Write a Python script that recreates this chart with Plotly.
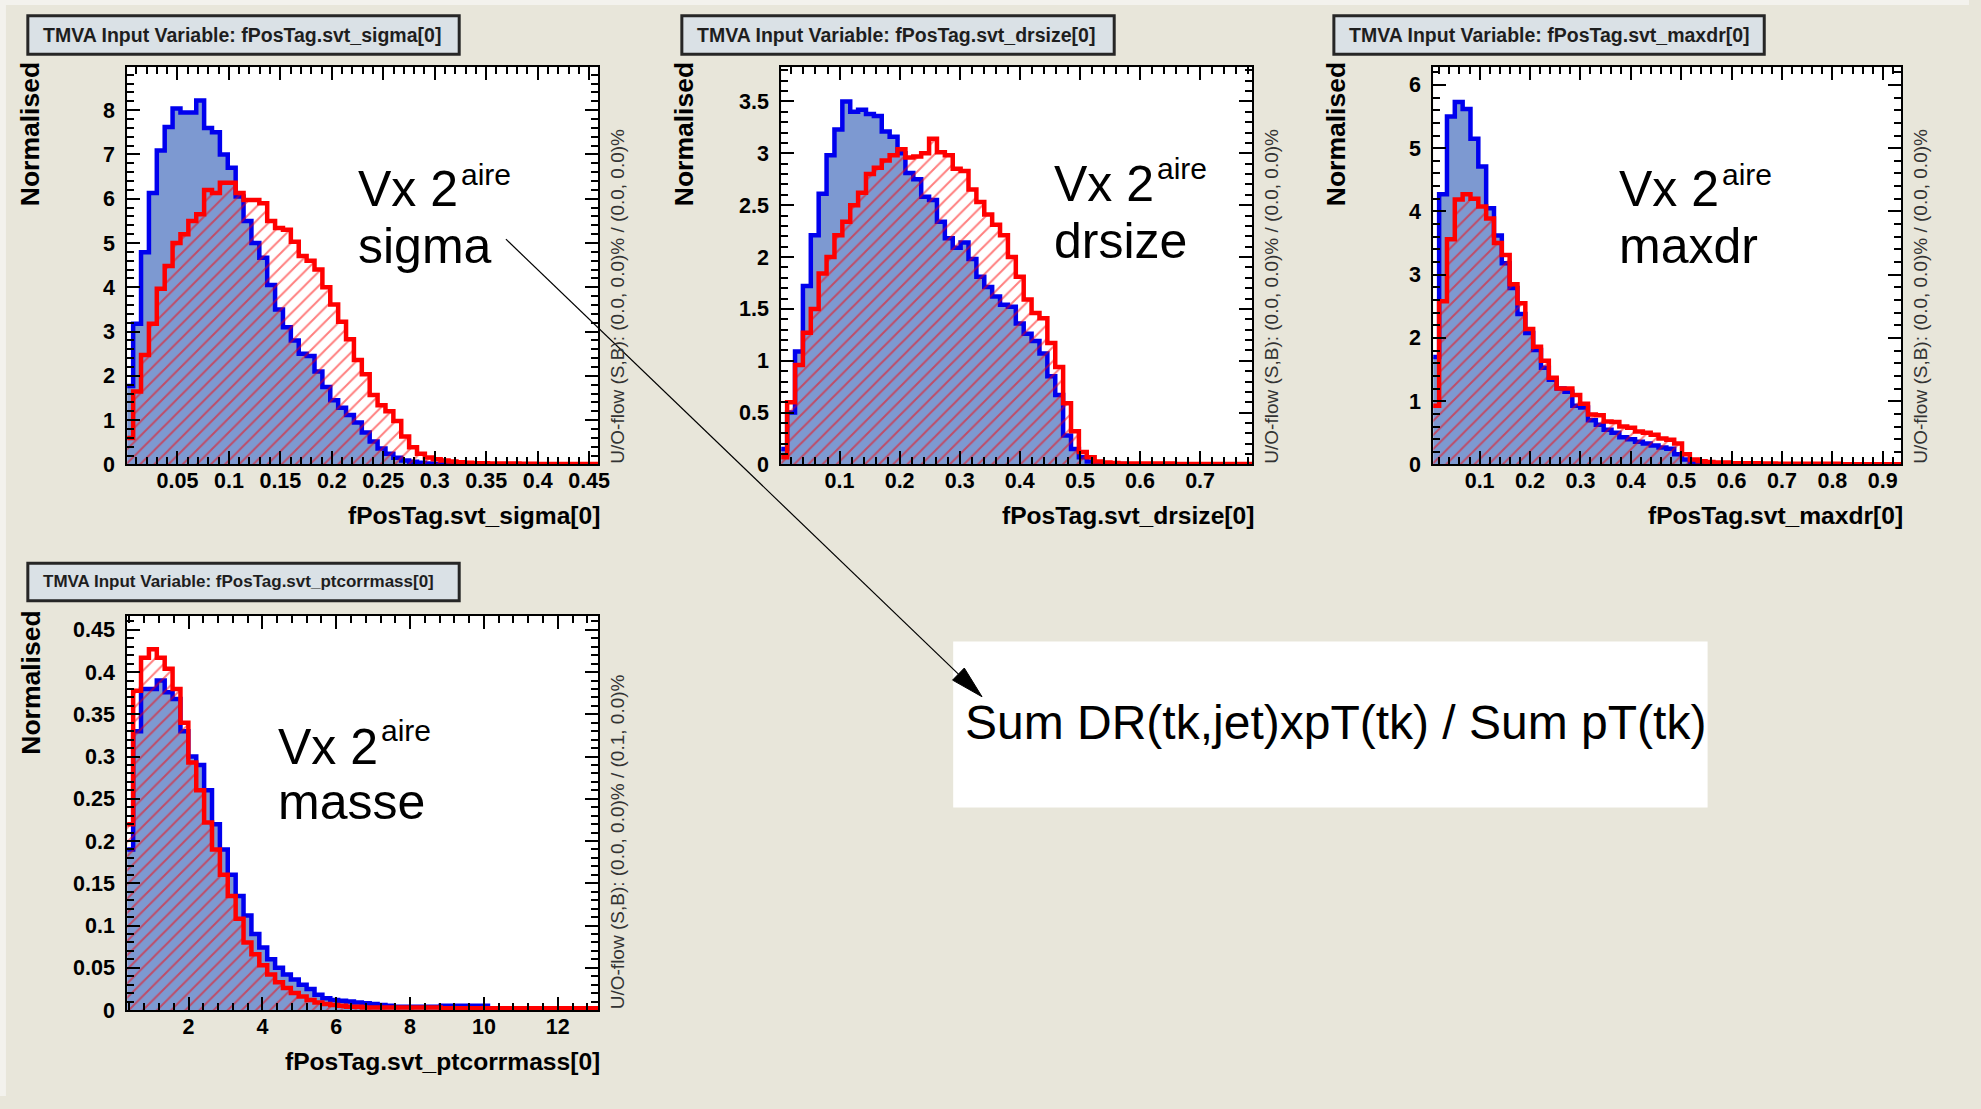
import numpy as np
import plotly.graph_objects as go

W, H = 1981, 1109
FONT = "Liberation Sans"
BEIGE = "#e8e6da"
SIG_FILL = "#7d99d1"
SIG_LINE = "#0000ee"
BKG_LINE = "#ff0000"

# ---------------------------------------------------------------------------
# Histogram contents, 60 bins per variable: signal (S) and background (B)
# ---------------------------------------------------------------------------
sigma_hist_range = (-0.0007, 0.459)
sigma_axis_range = (0.0012, 0.459)
sigma_sig = [1.77, 3.18, 4.79, 6.13, 7.09, 7.62, 8.04, 7.95, 7.95, 8.22,
             7.6, 7.5, 7.0, 6.7, 6.05, 5.5, 5.0, 4.67, 4.05, 3.5,
             3.1, 2.8, 2.5, 2.45, 2.1, 1.75, 1.45, 1.28, 1.12, 0.95,
             0.72, 0.52, 0.36, 0.24, 0.15, 0.09, 0.06, 0.04, 0.02, 0.01,
             0.01, 0.005, 0.005, 0.003, 0.003, 0.002, 0.002, 0.001, 0.001, 0.001,
             0.001, 0.0, 0.0, 0.0, 0.0, 0.0, 0.0, 0.0, 0.0, 0.0]
sigma_bkg = [0.6, 1.65, 2.47, 3.18, 3.97, 4.48, 5.0, 5.2, 5.5, 5.65,
             6.2, 6.13, 6.36, 6.36, 6.13, 5.97, 5.97, 5.9, 5.5, 5.34,
             5.3, 5.03, 4.71, 4.6, 4.4, 4.0, 3.61, 3.22, 2.83, 2.36,
             2.04, 1.57, 1.34, 1.2, 0.98, 0.63, 0.39, 0.24, 0.16, 0.12,
             0.09, 0.07, 0.05, 0.04, 0.03, 0.03, 0.02, 0.02, 0.02, 0.02,
             0.015, 0.015, 0.01, 0.01, 0.01, 0.01, 0.01, 0.01, 0.01, 0.01]

drsize_hist_range = (-0.0003, 0.787)
drsize_axis_range = (0.003, 0.787)
drsize_sig = [0.15, 0.5, 1.09, 1.72, 2.21, 2.61, 2.98, 3.23, 3.5, 3.4,
              3.42, 3.38, 3.36, 3.21, 3.16, 3.0, 2.81, 2.75, 2.58, 2.55,
              2.34, 2.18, 2.09, 2.14, 1.98, 1.81, 1.71, 1.62, 1.54, 1.52,
              1.36, 1.26, 1.19, 1.07, 0.85, 0.67, 0.28, 0.15, 0.07, 0.03,
              0.01, 0.01, 0.005, 0.005, 0.002, 0.002, 0.0, 0.0, 0.0, 0.0,
              0.0, 0.0, 0.0, 0.0, 0.0, 0.0, 0.0, 0.0, 0.0, 0.0]
drsize_bkg = [0.07, 0.6, 0.96, 1.27, 1.5, 1.84, 2.0, 2.21, 2.34, 2.5,
              2.62, 2.8, 2.86, 2.93, 2.98, 3.04, 2.96, 2.97, 3.0, 3.14,
              3.01, 2.98, 2.85, 2.83, 2.65, 2.53, 2.41, 2.31, 2.21, 2.0,
              1.81, 1.59, 1.46, 1.41, 1.17, 0.94, 0.59, 0.32, 0.12, 0.07,
              0.03, 0.02, 0.015, 0.01, 0.01, 0.01, 0.01, 0.01, 0.01, 0.01,
              0.005, 0.005, 0.005, 0.005, 0.005, 0.005, 0.005, 0.005, 0.005, 0.005]

maxdr_hist_range = (0.0041, 0.937)
maxdr_axis_range = (0.008, 0.937)
maxdr_sig = [1.7, 4.27, 5.5, 5.73, 5.62, 5.15, 4.71, 4.05, 3.62, 3.18,
             2.79, 2.38, 2.08, 1.81, 1.53, 1.34, 1.2, 1.15, 0.93, 0.9,
             0.7, 0.63, 0.55, 0.5, 0.43, 0.4, 0.36, 0.33, 0.3, 0.27,
             0.25, 0.16, 0.08, 0.04, 0.02, 0.01, 0.01, 0.005, 0.005, 0.003,
             0.003, 0.002, 0.002, 0.001, 0.001, 0.001, 0.0, 0.0, 0.0, 0.0,
             0.0, 0.0, 0.0, 0.0, 0.0, 0.0, 0.0, 0.0, 0.0, 0.0]
maxdr_bkg = [0.93, 2.58, 3.56, 4.19, 4.27, 4.2, 4.08, 3.89, 3.5, 3.31,
             2.85, 2.55, 2.14, 1.86, 1.64, 1.37, 1.2, 1.2, 1.1, 0.96,
             0.79, 0.78, 0.68, 0.67, 0.6, 0.58, 0.52, 0.5, 0.47, 0.41,
             0.39, 0.33, 0.16, 0.08, 0.05, 0.04, 0.03, 0.03, 0.02, 0.02,
             0.02, 0.02, 0.015, 0.015, 0.01, 0.01, 0.01, 0.01, 0.01, 0.01,
             0.01, 0.01, 0.005, 0.005, 0.005, 0.005, 0.005, 0.005, 0.005, 0.005]

mass_hist_range = (0.287, 13.1)
mass_axis_range = (0.34, 13.1)
mass_sig = [0.19, 0.33, 0.38, 0.38, 0.39, 0.376, 0.368, 0.33, 0.30, 0.29,
            0.26, 0.22, 0.19, 0.16, 0.135, 0.112, 0.09, 0.074, 0.06, 0.05,
            0.042, 0.036, 0.03, 0.025, 0.018, 0.014, 0.012, 0.011, 0.01, 0.009,
            0.008, 0.007, 0.006, 0.005, 0.004, 0.004, 0.004, 0.004, 0.004, 0.004,
            0.005, 0.005, 0.005, 0.005, 0.005, 0.005, 0.002, 0.002, 0.002, 0.002,
            0.002, 0.002, 0.001, 0.001, 0.001, 0.001, 0.001, 0.001, 0.001, 0.001]
mass_bkg = [0.22, 0.378, 0.417, 0.427, 0.417, 0.404, 0.38, 0.34, 0.293, 0.26,
            0.222, 0.19, 0.16, 0.135, 0.108, 0.08, 0.066, 0.053, 0.042, 0.033,
            0.026, 0.02, 0.016, 0.012, 0.009, 0.007, 0.006, 0.005, 0.004, 0.004,
            0.003, 0.003, 0.003, 0.003, 0.003, 0.003, 0.003, 0.003, 0.003, 0.003,
            0.002, 0.002, 0.002, 0.002, 0.002, 0.002, 0.002, 0.002, 0.002, 0.002,
            0.002, 0.002, 0.002, 0.002, 0.002, 0.002, 0.002, 0.002, 0.002, 0.002]

variables = ["fPosTag.svt_sigma[0]", "fPosTag.svt_drsize[0]",
             "fPosTag.svt_maxdr[0]", "fPosTag.svt_ptcorrmass[0]"]
labels = ["sigma", "drsize", "maxdr", "masse"]
overflow_texts = ["U/O-flow (S,B): (0.0, 0.0)% / (0.0, 0.0)%",
                  "U/O-flow (S,B): (0.0, 0.0)% / (0.0, 0.0)%",
                  "U/O-flow (S,B): (0.0, 0.0)% / (0.0, 0.0)%",
                  "U/O-flow (S,B): (0.0, 0.0)% / (0.1, 0.0)%"]
note_text = "Sum DR(tk,jet)xpT(tk) / Sum pT(tk)"


def fx(px):
    return px / W


def fy(py):
    return 1 - py / H


# panel layout: plot frame in pixels, axis ranges, tick steps, title box
panels = [
    dict(sig=sigma_sig, bkg=sigma_bkg, hr=sigma_hist_range, xr=sigma_axis_range,
         ymax=8.97, frame=(128, 68, 602, 470), xd=0.05, xm=0.01, yd=1, ym=0.2,
         box=(28, 16, 462, 55), tsize=19.5, lab=(358, 191.5, 462, 177, 249)),
    dict(sig=drsize_sig, bkg=drsize_bkg, hr=drsize_hist_range, xr=drsize_axis_range,
         ymax=3.83, frame=(786, 68, 1260, 470), xd=0.1, xm=0.02, yd=0.5, ym=0.1,
         box=(686, 16, 1121, 55), tsize=19.5, lab=(1058, 186, 1162, 170, 243.6)),
    dict(sig=maxdr_sig, bkg=maxdr_bkg, hr=maxdr_hist_range, xr=maxdr_axis_range,
         ymax=6.28, frame=(1442, 68, 1913, 470), xd=0.1, xm=0.02, yd=1, ym=0.2,
         box=(1342, 16, 1775, 55), tsize=19.5, lab=(1627, 191.5, 1730, 177, 249)),
    dict(sig=mass_sig, bkg=mass_bkg, hr=mass_hist_range, xr=mass_axis_range,
         ymax=0.4667, frame=(128, 623, 602, 1022), xd=2, xm=0.4, yd=0.05, ym=0.01,
         box=(28, 570, 462, 608), tsize=17, lab=(278, 755.6, 381, 739, 812)),
]

fig = go.Figure()
shapes = []
annotations = []

# light frame strips along the left and top edge of the slide
shapes.append(dict(type="rect", xref="paper", yref="paper", x0=0, x1=fx(6), y0=0, y1=1,
                   fillcolor="#f3f2ed", line=dict(width=0), layer="below"))
shapes.append(dict(type="rect", xref="paper", yref="paper", x0=0, x1=1, y0=fy(5), y1=1,
                   fillcolor="#f3f2ed", line=dict(width=0), layer="below"))

tick_font = dict(family=FONT, size=21.5, color="black", weight="bold")
xtitle_font = dict(family=FONT, size=24.6, color="black", weight="bold")
ytitle_font = dict(family=FONT, size=26.5, color="black", weight="bold")

for i, p in enumerate(panels, start=1):
    sfx = "" if i == 1 else str(i)
    xa, ya = "x" + sfx, "y" + sfx
    edges = np.linspace(p["hr"][0], p["hr"][1], len(p["sig"]) + 1)
    ys = list(p["sig"]) + [p["sig"][-1]]
    yb = list(p["bkg"]) + [p["bkg"][-1]]

    # signal: solid blue fill with a dark blue step outline
    fig.add_trace(go.Scatter(
        x=edges, y=ys, xaxis=xa, yaxis=ya, mode="lines", line_shape="hv",
        line=dict(color=SIG_LINE, width=4.5), fill="tozeroy", fillcolor=SIG_FILL,
        hoverinfo="skip", showlegend=False))
    # background: red hatching with a red step outline
    fig.add_trace(go.Scatter(
        x=edges, y=yb, xaxis=xa, yaxis=ya, mode="lines", line_shape="hv",
        line=dict(color=BKG_LINE, width=4.5), fill="tozeroy",
        fillcolor="rgba(0,0,0,0)",
        fillpattern=dict(shape="/", fgcolor=BKG_LINE, bgcolor="rgba(0,0,0,0)",
                         size=10, solidity=0.2, fillmode="overlay"),
        hoverinfo="skip", showlegend=False))

    l, t, r, b = p["frame"]
    common = dict(showline=True, linecolor="black", linewidth=2, mirror="allticks",
                  ticks="inside", ticklen=13, tickwidth=2, tickcolor="black",
                  showgrid=False, zeroline=False, tickfont=tick_font,
                  fixedrange=True)
    fig.layout["xaxis" + sfx] = dict(
        domain=[fx(l), fx(r)], range=list(p["xr"]), anchor=ya,
        dtick=p["xd"], tick0=0, ticklabelstandoff=-4,
        minor=dict(dtick=p["xm"], tick0=0, ticks="inside", ticklen=7, tickwidth=1.5,
                   tickcolor="black", showgrid=False),
        **common)
    fig.layout["yaxis" + sfx] = dict(
        domain=[fy(b), fy(t)], range=[0, p["ymax"]], anchor=xa,
        dtick=p["yd"], tick0=0, ticklabelstandoff=6,
        minor=dict(dtick=p["ym"], tick0=0, ticks="inside", ticklen=7, tickwidth=1.5,
                   tickcolor="black", showgrid=False),
        **common)

    # title box
    bx0, by0, bx1, by1 = p["box"]
    shapes.append(dict(type="rect", xref="paper", yref="paper",
                       x0=fx(bx0), x1=fx(bx1), y0=fy(by1), y1=fy(by0),
                       fillcolor="#dae1e6", line=dict(color="#262626", width=3)))
    annotations.append(dict(
        text="TMVA Input Variable: " + variables[i - 1], xref="paper", yref="paper",
        x=fx(bx0 + 13), y=fy((by0 + by1) / 2 - 0.5), xanchor="left", yanchor="middle",
        showarrow=False, font=dict(family=FONT, size=p["tsize"], color="#1e1e1e",
                                   weight="bold")))

    # axis titles
    annotations.append(dict(
        text="Normalised", xref="paper", yref="paper", x=fx(l - 97), y=fy(t + 68),
        xanchor="center", yanchor="middle", textangle=-90, showarrow=False,
        font=ytitle_font))
    annotations.append(dict(
        text=variables[i - 1], xref="paper", yref="paper", x=fx(r + 4), y=fy(b + 52),
        xanchor="right", yanchor="middle", showarrow=False, font=xtitle_font))

    # under/overflow note along the right edge
    annotations.append(dict(
        text=overflow_texts[i - 1], xref="paper", yref="paper", x=fx(r + 19.5),
        y=fy(b + 1), xanchor="center", yanchor="bottom", textangle=-90,
        showarrow=False, font=dict(family=FONT, size=19, color="#333333")))

    # "Vx 2aire <variable>" label
    lx, ly1, sx, sy, ly2 = p["lab"]
    big = dict(family=FONT, size=50, color="black")
    annotations.append(dict(text="Vx 2", xref="paper", yref="paper", x=fx(lx), y=fy(ly1),
                            xanchor="left", yanchor="middle", showarrow=False, font=big))
    annotations.append(dict(text="aire", xref="paper", yref="paper", x=fx(sx), y=fy(sy),
                            xanchor="left", yanchor="middle", showarrow=False,
                            font=dict(family=FONT, size=30, color="black")))
    annotations.append(dict(text=labels[i - 1], xref="paper", yref="paper", x=fx(lx),
                            y=fy(ly2), xanchor="left", yanchor="middle",
                            showarrow=False, font=big))

# white note box with its formula
shapes.append(dict(type="rect", xref="paper", yref="paper",
                   x0=fx(959), x1=fx(1718), y0=fy(817), y1=fy(649),
                   fillcolor="white", line=dict(width=0)))
annotations.append(dict(text=note_text, xref="paper", yref="paper", x=fx(969),
                        y=fy(731.5), xanchor="left", yanchor="middle", showarrow=False,
                        font=dict(family=FONT, size=48, color="black")))

# arrow from the sigma label down to the note box
tail = np.array([509.0, 242.0])
tip = np.array([988.0, 705.0])
u = (tip - tail) / np.linalg.norm(tip - tail)
nrm = np.array([-u[1], u[0]])
base = tip - 33 * u
p1 = base + 8.5 * nrm
p2 = base - 8.5 * nrm
shapes.append(dict(type="line", xref="paper", yref="paper",
                   x0=fx(tail[0]), y0=fy(tail[1]), x1=fx(base[0]), y1=fy(base[1]),
                   line=dict(color="black", width=1.2), layer="above"))
shapes.append(dict(type="path", xref="paper", yref="paper",
                   path="M {:.5f},{:.5f} L {:.5f},{:.5f} L {:.5f},{:.5f} Z".format(
                       fx(tip[0]), fy(tip[1]), fx(p1[0]), fy(p1[1]), fx(p2[0]), fy(p2[1])),
                   fillcolor="black", line=dict(color="black", width=1), layer="above"))

fig.update_layout(
    width=W, height=H, margin=dict(l=0, r=0, t=0, b=0),
    paper_bgcolor=BEIGE, plot_bgcolor="white",
    shapes=shapes, annotations=annotations, showlegend=False,
)

fig.write_html("out.html")
